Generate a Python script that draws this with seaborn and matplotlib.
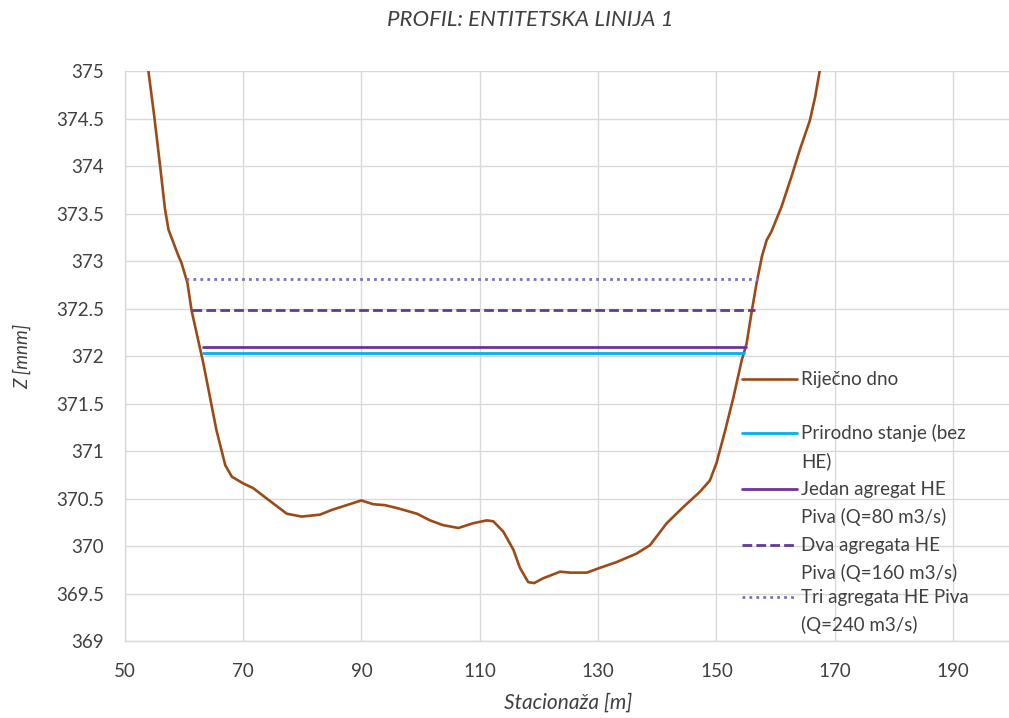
import matplotlib
matplotlib.use("Agg")
import matplotlib.pyplot as plt
import seaborn as sns
import pandas as pd

# --- DATA ---
stationing = [53.9, 55.0, 56.0, 56.8, 57.4, 59.1, 59.6, 60.6, 61.3, 62.3, 63.3, 64.4, 65.5,
              67.0, 68.1, 70.0, 71.7, 74.0, 77.4, 79.9, 83.0, 85.0, 87.5, 90.0, 92.0, 94.0,
              96.0, 99.4, 101.6, 103.8, 106.4, 108.9, 111.2, 112.3, 114.0, 115.7, 116.8,
              118.2, 119.2, 120.7, 123.6, 125.3, 128.1, 130.3, 133.1, 136.5, 138.8, 141.6,
              144.4, 147.2, 148.9, 150.0, 151.5, 152.9, 154.3, 155.1, 156.0, 156.8, 157.7,
              158.5, 159.3, 161.0, 162.7, 164.1, 165.8, 166.7, 167.6]
bed_level = [375.05, 374.52, 373.99, 373.55, 373.33, 373.05, 372.98, 372.77, 372.48, 372.20,
             371.92, 371.57, 371.22, 370.85, 370.73, 370.66, 370.61, 370.50, 370.34, 370.31,
             370.33, 370.38, 370.43, 370.48, 370.44, 370.43, 370.40, 370.34, 370.27, 370.22,
             370.19, 370.24, 370.27, 370.26, 370.15, 369.96, 369.77, 369.62, 369.61, 369.66,
             369.73, 369.72, 369.72, 369.77, 369.83, 369.92, 370.01, 370.24, 370.41, 370.57,
             370.69, 370.87, 371.22, 371.57, 371.96, 372.13, 372.48, 372.77, 373.05, 373.22,
             373.31, 373.57, 373.89, 374.17, 374.48, 374.73, 375.05]

scenarios = ["Prirodno stanje (bez\nHE)",
             "Jedan agregat HE\nPiva (Q=80 m3/s)",
             "Dva agregata HE\nPiva (Q=160 m3/s)",
             "Tri agregata HE Piva\n(Q=240 m3/s)"]
water_level = [372.03, 372.10, 372.48, 372.81]
water_start = [63.3, 63.3, 61.3, 60.3]
water_end = [154.7, 154.95, 156.5, 157.1]

bed_label = "Riječno dno"
x_ticks = [50, 70, 90, 110, 130, 150, 170, 190]
y_ticks = [369, 369.5, 370, 370.5, 371, 371.5, 372, 372.5, 373, 373.5, 374, 374.5, 375]

# --- STYLE ---
bed_color = "#9C4A17"
scen_colors = ["#00B0F0", "#7030A0", "#5E3C99", "#7F6FBF"]
scen_styles = ["-", "-", (0, (3.5, 1.5)), (0, (1, 1.5))]
grid_color = "#D9D9D9"
text_color = "#404040"

sns.set_theme(style="whitegrid")
plt.rcParams["font.family"] = ["Lato", "DejaVu Sans"]

fig = plt.figure(figsize=(10.09, 7.18), dpi=100)
ax = fig.add_axes([0.1236, 0.1072, 0.8796, 0.7939])

df_bed = pd.DataFrame({"x": stationing, "z": bed_level})
sns.lineplot(data=df_bed, x="x", y="z", sort=False, color=bed_color, linewidth=1.9, ax=ax)

for name, lvl, x0, x1, col, ls in zip(scenarios, water_level, water_start, water_end,
                                       scen_colors, scen_styles):
    seg = pd.DataFrame({"x": [x0, x1], "z": [lvl, lvl]})
    sns.lineplot(data=seg, x="x", y="z", color=col, linestyle=ls, linewidth=2.0, ax=ax)

ax.set_xlim(50, 200)
ax.set_ylim(369, 375)
ax.set_xticks(x_ticks)
ax.set_yticks(y_ticks)
ax.set_yticklabels([f"{v:g}" for v in y_ticks])
ax.grid(True, color=grid_color, linewidth=1.0)
ax.tick_params(axis="both", length=0, labelsize=13.5, colors=text_color)
ax.tick_params(axis="y", pad=15)
ax.tick_params(axis="x", pad=16)
for side in ["top", "right"]:
    ax.spines[side].set_visible(False)
for side in ["left", "bottom"]:
    ax.spines[side].set_color(grid_color)
    ax.spines[side].set_linewidth(1.0)

ax.set_xlabel("Stacionaža [m]", fontsize=15, style="italic", color=text_color, va="center")
ax.set_ylabel("Z [mnm]", fontsize=13.5, style="italic", color=text_color, va="center")
ax.xaxis.set_label_coords(0.5, -0.1088)
ax.yaxis.set_label_coords(-0.1161, 0.5)

fig.text(0.526, 1 - 20 / 718, "PROFIL: ENTITETSKA LINIJA 1", ha="center", va="center",
         fontsize=16, style="italic", color=text_color)

# --- LEGENDA (kljuc uz prvi red teksta, kao u Excelu) ---
leg_labels = [bed_label] + scenarios
leg_colors = [bed_color] + scen_colors
leg_styles = ["-"] + scen_styles
leg_y = [0.4596, 0.3649, 0.2667, 0.1684, 0.0772]
line_step = 28 / 570
for lab, col, ls, y0 in zip(leg_labels, leg_colors, leg_styles, leg_y):
    ax.plot([0.6957, 0.7579], [y0, y0], transform=ax.transAxes, color=col, linestyle=ls,
            linewidth=1.9 if col == bed_color else 2.0, clip_on=False)
    for j, line in enumerate(lab.split("\n")):
        ax.text(0.762, y0 - j * line_step, line, transform=ax.transAxes, ha="left",
                va="center", fontsize=13.5, color=text_color)

fig.savefig("out.png", dpi=100)
